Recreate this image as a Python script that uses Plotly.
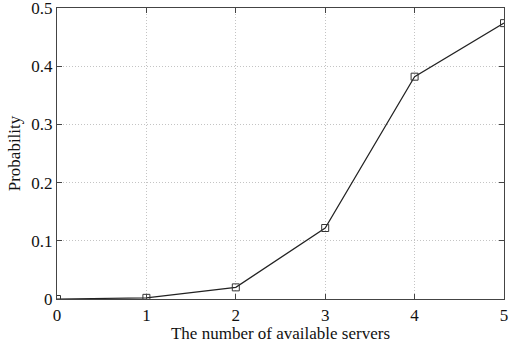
import plotly.graph_objects as go

servers = [0, 1, 2, 3, 4, 5]
probability = [0.0, 0.002, 0.02, 0.122, 0.382, 0.474]

x_ticks = [0, 1, 2, 3, 4, 5]
y_ticks = [0, 0.1, 0.2, 0.3, 0.4, 0.5]
y_tick_text = ["0", "0.1", "0.2", "0.3", "0.4", "0.5"]

serif = "Liberation Serif"

fig = go.Figure()
fig.add_trace(go.Scatter(
    x=servers, y=probability,
    mode="lines+markers",
    line=dict(color="#222222", width=1.2),
    marker=dict(symbol="square-open", size=7, color="#333333", line=dict(width=1)),
    showlegend=False,
))

axis_common = dict(
    showline=True, linecolor="#444444", linewidth=1.2, mirror="ticks",
    ticks="inside", ticklen=5, tickcolor="#444444",
    showgrid=True, gridcolor="#c4c4c4", griddash="1px,2px", gridwidth=1,
    zeroline=False, ticklabeloverflow="allow", automargin=False,
    tickfont=dict(family=serif, size=17, color="#111111"),
)

fig.update_xaxes(
    range=[0, 5], tickvals=x_ticks,
    title=dict(text="The number of available servers",
               font=dict(family=serif, size=17, color="#111111"),
               standoff=0),
    **axis_common,
)
fig.update_yaxes(
    range=[0, 0.5], tickvals=y_ticks, ticktext=y_tick_text,
    title=dict(text="Probability",
               font=dict(family=serif, size=17, color="#111111"),
               standoff=6),
    **axis_common,
)

fig.update_layout(
    width=510, height=354,
    margin=dict(l=57, r=6, t=8, b=55),
    paper_bgcolor="white", plot_bgcolor="white",
)

fig.write_html("out.html")
